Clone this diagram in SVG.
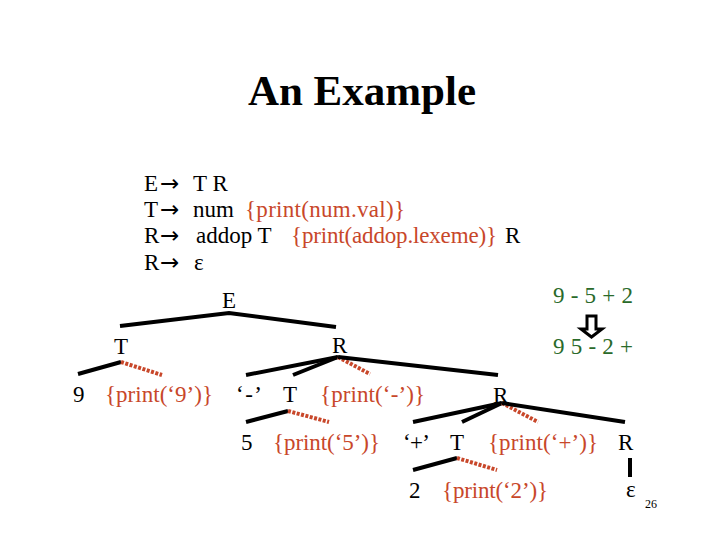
<svg xmlns="http://www.w3.org/2000/svg" width="720" height="540" viewBox="0 0 720 540">
<style>
text{font-family:"Liberation Serif","Times New Roman",serif;font-size:23px;fill:#000}
.t{font-size:43px;font-weight:bold}
.a{font-family:"DejaVu Sans","Liberation Serif",sans-serif;font-size:23px}
.o{fill:#c8472a}
.g{fill:#2a6a2a}
.b{stroke:#000;stroke-width:4;fill:none;stroke-linecap:butt}
.d{stroke:#c8472a;stroke-width:4;fill:none;stroke-dasharray:3 1.5}
.s{font-size:12px}
</style>
<rect width="720" height="540" fill="#fff"/>
<text class="t" x="362" y="105" text-anchor="middle">An Example</text>
<g id="grammar">
<text x="144" y="191">E</text><text class="a" x="160" y="191">→</text><text x="193" y="191">T R</text>
<text x="144" y="217">T</text><text class="a" x="160" y="217">→</text><text x="193" y="217">num</text><text class="o" x="245" y="217" textLength="160">{print(num.val)}</text>
<text x="144" y="243">R</text><text class="a" x="160" y="243">→</text><text x="196" y="243">addop T</text><text class="o" x="291" y="243" textLength="206">{print(addop.lexeme)}</text><text x="505" y="243">R</text>
<text x="144" y="270">R</text><text class="a" x="160" y="270">→</text><text x="194" y="270">ε</text>
</g>
<g id="conversion">
<text class="g" x="553" y="303" textLength="80">9 - 5 + 2</text>
<polygon points="587,316 596,316 596,329 602,329 591.5,337 581,329 587,329" fill="#fff" stroke="#000" stroke-width="3"/>
<text class="g" x="553" y="354" textLength="80">9 5 - 2 +</text>
</g>
<g id="connectors">
<polyline class="b" points="120,326 229,313 336,327"/>
<polyline class="b" points="78,374 121,362"/>
<line class="d" x1="121" y1="362" x2="162" y2="375"/>
<line class="b" x1="246" y1="375" x2="338" y2="357"/>
<line class="b" x1="293" y1="375" x2="338" y2="357"/>
<line class="d" x1="338" y1="357" x2="370" y2="374"/>
<line class="b" x1="338" y1="357" x2="498" y2="375"/>
<line class="b" x1="246" y1="422" x2="288" y2="411"/>
<line class="d" x1="288" y1="411" x2="329" y2="422"/>
<line class="b" x1="413" y1="422" x2="502" y2="403"/>
<line class="b" x1="462" y1="422" x2="502" y2="403"/>
<line class="d" x1="502" y1="403" x2="538" y2="422"/>
<line class="b" x1="502" y1="403" x2="625" y2="422"/>
<line class="b" x1="413" y1="470" x2="457" y2="458"/>
<line class="d" x1="457" y1="458" x2="497" y2="470"/>
<line class="b" x1="630" y1="458" x2="630" y2="477"/>
</g>
<g id="n-E"><text x="222" y="308">E</text></g>
<g id="n-T1"><text x="114" y="354">T</text></g>
<g id="n-R1"><text x="332" y="353">R</text></g>
<g id="n-9"><text x="73" y="402">9</text></g>
<g id="n-p9"><text class="o" x="105" y="402" textLength="108">{print(‘9’)}</text></g>
<g id="n-minus"><text x="236" y="402" textLength="26">‘-’</text></g>
<g id="n-T2"><text x="283" y="402">T</text></g>
<g id="n-pminus"><text class="o" x="320" y="402" textLength="105">{print(‘-’)}</text></g>
<g id="n-R2"><text x="493" y="403">R</text></g>
<g id="n-5"><text x="241" y="450">5</text></g>
<g id="n-p5"><text class="o" x="273" y="450" textLength="107">{print(‘5’)}</text></g>
<g id="n-plus"><text x="403" y="450" textLength="27">‘+’</text></g>
<g id="n-T3"><text x="450" y="450">T</text></g>
<g id="n-pplus"><text class="o" x="488" y="450" textLength="110">{print(‘+’)}</text></g>
<g id="n-R3"><text x="618" y="450">R</text></g>
<g id="n-2"><text x="409" y="498">2</text></g>
<g id="n-p2"><text class="o" x="442" y="498" textLength="106">{print(‘2’)}</text></g>
<g id="n-eps"><text x="626" y="497">ε</text></g>
<text class="s" x="645" y="508">26</text>
</svg>
